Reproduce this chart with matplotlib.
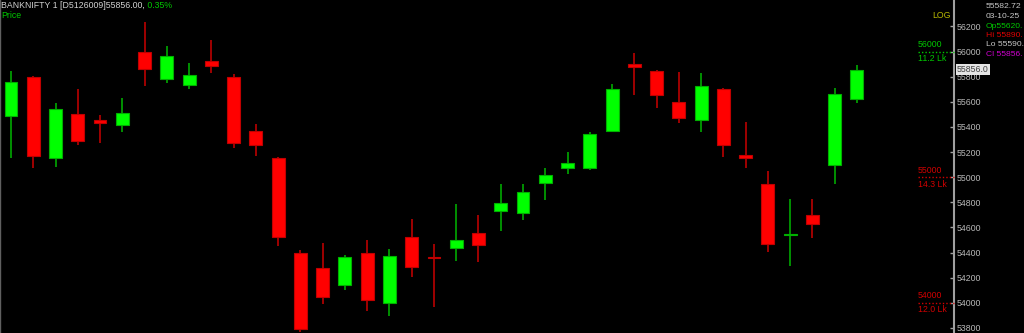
import matplotlib
matplotlib.use("Agg")
import matplotlib.pyplot as plt
from matplotlib.transforms import blended_transform_factory

# ---- data ----
opens = [55487, 55797, 55153, 55500, 55453, 55415, 55996, 55784, 55731, 55922,
         55797, 55370, 55153, 54395, 54278, 54145, 54397, 53999, 54522, 54368,
         54437, 54554, 54729, 54718, 54952, 55071, 55071, 55368, 55901, 55845,
         55598, 55457, 55702, 55179, 54948, 54543, 54699, 55095, 55620]
highs = [55845, 55805, 55593, 55702, 55495, 55628, 56235, 56046, 55909, 56091,
         55823, 55421, 55160, 54419, 54477, 54381, 54503, 54427, 54670, 54471,
         54787, 54699, 54948, 54946, 55073, 55198, 55360, 55744, 55990, 55855,
         55839, 55827, 55710, 55442, 55047, 54824, 54824, 55712, 55890]
lows = [55155, 55076, 55084, 55259, 55274, 55357, 55723, 55752, 55702, 55831,
        55230, 55171, 54455, 53770, 53994, 54105, 53936, 53898, 54206, 53965,
        54333, 54328, 54570, 54662, 54821, 55025, 55060, 55362, 55654, 55551,
        55429, 55362, 55163, 55076, 54403, 54296, 54519, 54946, 55590]
closes = [55760, 55166, 55543, 55286, 55434, 55508, 55858, 55967, 55815, 55887,
          55270, 55259, 54522, 53792, 54047, 54365, 54026, 54371, 54286, 54355,
          54498, 54463, 54792, 54880, 55015, 55115, 55344, 55702, 55877, 55654,
          55469, 55723, 55254, 55150, 54471, 54549, 54630, 55664, 55856]

y_ticks = [53800, 54000, 54200, 54400, 54600, 54800, 55000, 55200, 55400, 55600, 55800, 56000, 56200]
levels = [56000, 55000, 54000]
level_vols = ["11.2 Lk", "14.3 Lk", "12.0 Lk"]
level_colors = ["#00c800", "#d00000", "#d00000"]
last_price = 55856.0

header_main = "BANKNIFTY 1 [D5126009]55856.00,"
header_pct = " 0.35%"
info_lines = [("55582.72", "#c8c8c8"), ("03-10-25", "#c8c8c8"), ("Op55620.", "#00c800"),
              ("Hi 55890.", "#e00000"), ("Lo 55590.", "#c8c8c8"), ("Cl 55856.", "#d000d0")]

# ---- figure ----
W, H = 1024, 333
fig = plt.figure(figsize=(W / 100, H / 100), dpi=100, facecolor="black")
ax = fig.add_axes([0, 0, 954 / W, 1], facecolor="black")
FONT = "Liberation Sans"
FS = 6.3

n = len(opens)
xs = list(range(n))
up_body, dn_body = "#00ff00", "#ff0000"
up_edge, dn_edge = "#00b000", "#c00000"
up_wick, dn_wick = "#009000", "#a00000"

for i in xs:
    o, h, l, c = opens[i], highs[i], lows[i], closes[i]
    up = c >= o
    ax.vlines(i, l, h, color=up_wick if up else dn_wick, linewidth=1.4, zorder=1)
    bottom = min(o, c)
    height = max(abs(c - o), 8)
    ax.bar(i, height, bottom=bottom, width=0.58,
           color=up_body if up else dn_body,
           edgecolor=up_edge if up else dn_edge, linewidth=0.8, zorder=2)

ax.set_xlim(-0.494, 42.36)
ax.set_ylim(53760, 56410)

for s in ["top", "bottom"]:
    ax.spines[s].set_visible(False)
ax.spines["left"].set_color("#606060")
ax.spines["left"].set_linewidth(1.0)
ax.spines["right"].set_color("#a0a0a0")
ax.spines["right"].set_linewidth(1.5)

ax.set_xticks([])
ax.yaxis.tick_right()
ax.set_yticks(y_ticks)
ax.set_yticklabels([str(t) for t in y_ticks])
ax.tick_params(axis="y", direction="in", length=3, width=1, color="#a0a0a0",
               labelcolor="#b8b8b8", labelsize=FS, pad=2)
for lab in ax.get_yticklabels():
    lab.set_fontfamily(FONT)

# level markers
trans = blended_transform_factory(ax.transAxes, ax.transData)
x0 = 918 / 954
for lv, vol, col in zip(levels, level_vols, level_colors):
    ax.plot([x0, 1.0], [lv, lv], transform=trans, color=col, linestyle=(0, (1, 1.5)),
            linewidth=1.0, clip_on=False, zorder=3)
    ax.text(x0, lv + 20, str(lv), transform=trans, color=col, fontsize=FS,
            family=FONT, va="bottom", ha="left")
    ax.text(x0, lv - 20, vol, transform=trans, color=col, fontsize=FS,
            family=FONT, va="top", ha="left")

# last price marker
ax.text(1.003, last_price, f"{last_price:.1f}", transform=trans, color="#404040",
        fontsize=FS, family=FONT, va="center", ha="left", clip_on=False, zorder=5,
        bbox=dict(boxstyle="square,pad=0.15", facecolor="#e4e4e4", edgecolor="none"))

# LOG label
fig.text(951 / W, 1 - 16 / H, "LOG", color="#b8b800", fontsize=FS, family=FONT,
         ha="right", va="center")

# header
t1 = fig.text(1 / W, 1 - 6 / H, header_main, color="#d0d0d0", fontsize=FS,
              family=FONT, ha="left", va="center")
fig.canvas.draw()
bb = t1.get_window_extent(fig.canvas.get_renderer())
fig.text(bb.x1 / W, 1 - 6 / H, header_pct, color="#00c800", fontsize=FS,
         family=FONT, ha="left", va="center")
fig.text(1 / W, 1 - 16 / H, "Price", color="#00c800", fontsize=FS,
         family=FONT, ha="left", va="center")

# info panel
for k, (txt, col) in enumerate(info_lines):
    fig.text(986 / W, 1 - (7 + 9.5 * k) / H, txt, color=col, fontsize=FS - 0.2,
             family=FONT, ha="left", va="center")

fig.savefig("out.png", dpi=100, facecolor="black")
